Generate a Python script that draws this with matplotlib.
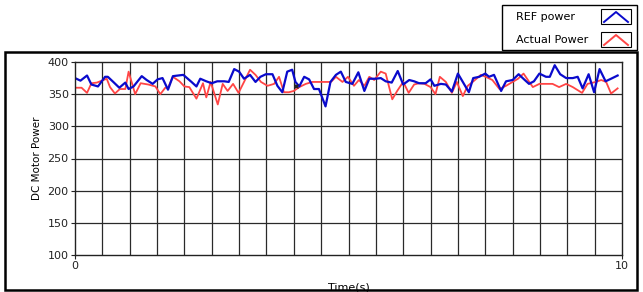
import matplotlib
matplotlib.use("Agg")
import matplotlib.pyplot as plt
from matplotlib.patches import Rectangle
from matplotlib.lines import Line2D

# REF power (blue)
ref_t = [0.0, 0.1, 0.22, 0.3, 0.42, 0.55, 0.6, 0.7, 0.81, 0.92, 0.98, 1.07, 1.22, 1.31, 1.42, 1.51, 1.6, 1.7, 1.79, 1.98,
         2.13, 2.22, 2.29, 2.4, 2.5, 2.6, 2.73, 2.81, 2.91, 3.0, 3.09, 3.2, 3.3, 3.39, 3.49, 3.61, 3.7, 3.79, 3.88, 3.97,
         4.03, 4.1, 4.19, 4.28, 4.37, 4.46, 4.58, 4.67, 4.77, 4.86, 4.95, 5.07, 5.18, 5.29, 5.38, 5.5, 5.59, 5.68, 5.79,
         5.9, 6.0, 6.11, 6.2, 6.29, 6.41, 6.5, 6.57, 6.69, 6.78, 6.89, 7.0, 7.09, 7.2, 7.28, 7.39, 7.5, 7.57, 7.66, 7.79,
         7.88, 8.0, 8.11, 8.21, 8.3, 8.39, 8.49, 8.61, 8.68, 8.77, 8.87, 8.98, 9.1, 9.19, 9.28, 9.39, 9.49, 9.59, 9.7,
         9.8, 9.92]
ref_p = [375, 371, 379, 365, 362, 377, 377, 369, 360, 368, 358, 362, 378, 372, 366, 373, 375, 357, 378, 380,
         369, 362, 374, 370, 367, 370, 370, 369, 389, 385, 374, 380, 369, 377, 381, 381, 363, 353, 385, 388,
         369, 362, 377, 373, 358, 358, 331, 369, 380, 385, 369, 366, 384, 355, 374, 374, 375, 370, 368,
         386, 365, 372, 370, 367, 367, 373, 363, 366, 365, 354, 382, 369, 353, 375, 377, 382, 377, 380, 355,
         370, 372, 381, 373, 366, 370, 382, 377, 377, 395, 381, 375, 375, 377, 359, 381, 353, 389, 370,
         374, 379]

# Actual Power (red)
act_t = [0.0, 0.12, 0.22, 0.3, 0.4, 0.58, 0.64, 0.73, 0.82, 0.92, 0.98, 1.1, 1.2, 1.34, 1.47, 1.56, 1.65, 1.7, 1.79,
         1.91, 2.0, 2.09, 2.22, 2.34, 2.4, 2.48, 2.61, 2.7, 2.79, 2.89, 2.99, 3.09, 3.2, 3.3, 3.4, 3.52, 3.64, 3.73,
         3.82, 3.91, 4.0, 4.1, 4.22, 4.34, 4.46, 4.68, 4.77, 4.89, 4.99, 5.1, 5.19, 5.29, 5.38, 5.47, 5.59, 5.68, 5.8,
         5.89, 6.0, 6.1, 6.2, 6.29, 6.39, 6.5, 6.59, 6.67, 6.78, 6.89, 6.98, 7.09, 7.18, 7.27, 7.42, 7.51, 7.63, 7.76,
         7.88, 8.0, 8.1, 8.2, 8.28, 8.37, 8.49, 8.61, 8.73, 8.85, 8.98, 9.1, 9.27, 9.37, 9.52, 9.62, 9.71, 9.8, 9.92]
act_p = [360, 360, 352, 367, 368, 374, 361, 351, 358, 358, 385, 350, 367, 365, 362, 350, 360, 360, 377,
         370, 362, 361, 343, 367, 345, 369, 334, 366, 355, 366, 352, 369, 388, 380, 369, 363, 366, 377,
         353, 353, 355, 361, 366, 369, 369, 369, 377, 369, 377, 363, 372, 363, 377, 372, 385, 382, 342,
         355, 369, 352, 365, 367, 366, 361, 350, 377, 369, 352, 369, 347, 363, 369, 380, 377, 372, 358,
         363, 369, 374, 382, 372, 361, 366, 366, 366, 361, 366, 361, 352, 366, 369, 372, 369, 351, 359]

y_ticks = [100, 150, 200, 250, 300, 350, 400]
x_grid = [i * 0.5 for i in range(21)]

W, H = 643, 292
fig = plt.figure(figsize=(W / 100, H / 100), dpi=100)
fig.patch.set_facecolor("white")

ax = fig.add_axes([75 / W, 37 / H, 547 / W, 193 / H])
ax.plot(act_t, act_p, color="#ff4545", linewidth=1.3)
ax.plot(ref_t, ref_p, color="#0a0acc", linewidth=1.6)
ax.plot([4.04], [363], marker="x", color="#222222", markersize=3, markeredgewidth=1)

ax.set_xlim(0, 10)
ax.set_ylim(100, 400)
ax.set_yticks(y_ticks)
ax.set_xticks([0, 10])
for x in x_grid[1:-1]:
    ax.axvline(x, color="#2a2a2a", linewidth=0.9, zorder=0)
for y in y_ticks[1:-1]:
    ax.axhline(y, color="#2a2a2a", linewidth=0.9, zorder=0)
for s in ax.spines.values():
    s.set_linewidth(1.0)
    s.set_color("#222222")
ax.tick_params(axis="both", labelsize=8, length=3, width=0.8, pad=1.5, colors="#222222")
ax.set_ylabel("DC Motor Power", fontsize=7.5, labelpad=4)
ax.set_xlabel("Time(s)", fontsize=8, labelpad=8)

# outer frame of the graph panel (drawn over the axes label so it clips like the original)
fig.patches.append(Rectangle((5 / W, 2 / H), 632 / W, 238 / H, transform=fig.transFigure,
                             fill=False, edgecolor="black", linewidth=1.8, zorder=5))

# legend panel, top right
fig.patches.append(Rectangle((502 / W, 242 / H), 135 / W, 45 / H, transform=fig.transFigure,
                             fill=False, edgecolor="black", linewidth=1.0))
fig.text(516 / W, 275 / H, "REF power", fontsize=8, va="center")
fig.text(516 / W, 252 / H, "Actual Power", fontsize=8, va="center")
for yc, col in [(275, "#0a0acc"), (252, "#ff4545")]:
    fig.patches.append(Rectangle((601 / W, (yc - 7) / H), 30 / W, 15 / H, transform=fig.transFigure,
                                 fill=False, edgecolor="black", linewidth=0.8))
    fig.lines.append(Line2D([604 / W, 616 / W, 628 / W], [(yc - 5) / H, (yc + 5) / H, (yc - 5) / H],
                            transform=fig.transFigure, color=col, linewidth=1.4))

fig.savefig("out.png", dpi=100)
